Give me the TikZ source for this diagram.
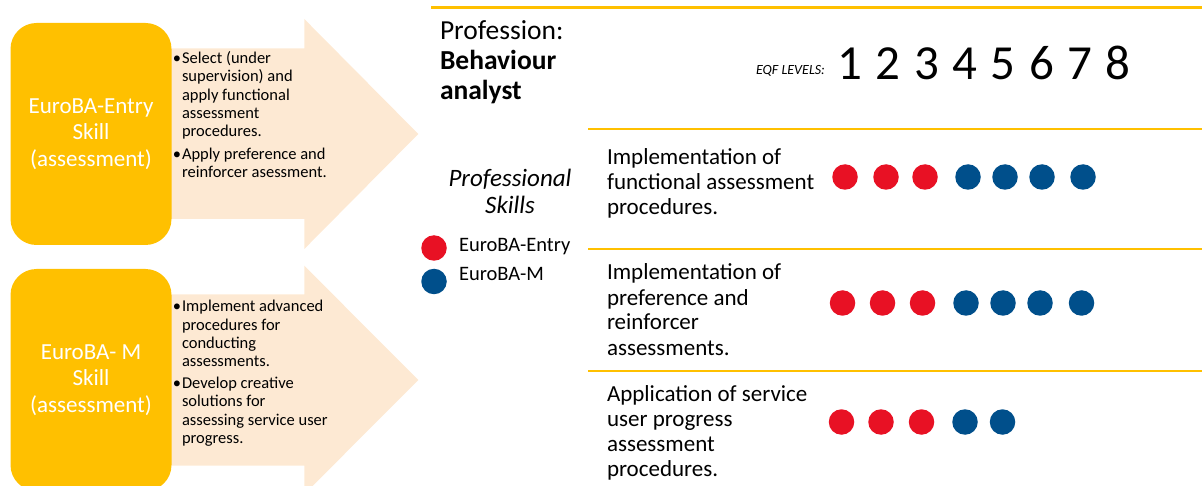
\documentclass[tikz,border=0pt]{standalone}
\usepackage{fontspec}
\setmainfont{Carlito}
\usetikzlibrary{positioning}
\definecolor{skillyellow}{RGB}{255,192,0}
\definecolor{arrowpeach}{RGB}{253,233,211}
\definecolor{dotred}{RGB}{232,17,36}
\definecolor{dotblue}{RGB}{0,79,139}

\begin{document}
\begin{tikzpicture}[x=1pt,y=-1pt]
        \tikzstyle{every node} = [inner sep=0, outer sep=0]
        \tikzstyle{skillbox} = [fill=skillyellow, rounded corners=26pt, minimum width=161pt, minimum height=222pt, text=white, align=center, font=\fontsize{23}{26.5}\selectfont]
        \tikzstyle{bul} = [anchor=base, font=\fontsize{16.5}{18.4}\selectfont]
        \tikzstyle{bultext} = [anchor=base west, align=left, font=\fontsize{16.5}{18.4}\selectfont]
        \tikzstyle{skilltext} = [anchor=base west, align=left, font=\fontsize{23}{25}\selectfont]
        \tikzstyle{level} = [anchor=base, font=\fontsize{49}{49}\selectfont]
        \tikzstyle{dot} = [circle, minimum size=25.5pt]
        \tikzstyle{rule} = [draw=skillyellow, line width=2.2pt]
        \useasboundingbox (0,0) rectangle (1202,486);

        % arrows behind the skill boxes
        \fill[arrowpeach] (168,48.3) -- (304.3,48.3) -- (304.3,19) -- (418.3,134) -- (304.3,249) -- (304.3,219) -- (168,219) -- cycle;
        \fill[arrowpeach] (168,294.3) -- (304.3,294.3) -- (304.3,265.7) -- (418.3,380) -- (304.3,494.3) -- (304.3,465.7) -- (168,465.7) -- cycle;

        \node[skillbox](entry) at (91,134){EuroBA-Entry\\Skill\\(assessment)};
        \node[skillbox](master) at (91,380){EuroBA- M\\Skill\\(assessment)};

        % multi-line nodes sit on the baseline of their last line
        \node[bul](eb1) at (177,63.3){•};
        \node[bultext](et1) at (182,136.9){Select (under\\supervision) and\\apply functional\\assessment\\procedures.};
        \node[bul](eb2) at (177,159.3){•};
        \node[bultext](et2) at (182,177.7){Apply preference and\\reinforcer asessment.};

        \node[bul](mb1) at (177,311.7){•};
        \node[bultext](mt1) at (182,366.9){Implement advanced\\procedures for\\conducting\\assessments.};
        \node[bul](mb2) at (177,388.3){•};
        \node[bultext](mt2) at (182,443.5){Develop creative\\solutions for\\assessing service user\\progress.};

        % right panel
        \draw[rule] (431,7.5) -- (1202,7.5);
        \draw[rule] (588,129) -- (1202,129);
        \draw[rule] (588,249) -- (1202,249);
        \draw[rule] (588,371) -- (1202,371);

        \node[anchor=base west, align=left, font=\fontsize{27.5}{30}\selectfont](prof) at (440,100){Profession:\\\textbf{Behaviour}\\\textbf{analyst}};
        \node[anchor=base east, font=\fontsize{14}{14}\selectfont\itshape](eqf) at (825,74.3){EQF LEVELS:};
        \foreach \n in {1,...,8}
            \node[level](lvl\n) at ({850+38.3*(\n-1)},79.3){\n};

        \node[anchor=base, align=center, font=\fontsize{25}{26.6}\selectfont\itshape](skills) at (510,213.3){Professional\\Skills};
        \node[dot, fill=dotred](entrydot) at (434,248){};
        \node[dot, fill=dotblue, below=8pt of entrydot](masterdot){};
        \node[anchor=base west, font=\fontsize{20.5}{22}\selectfont](entrylab) at (459,251.7){EuroBA-Entry};
        \node[anchor=base west, font=\fontsize{20.5}{22}\selectfont](masterlab) at (459,281){EuroBA-M};

        \node[skilltext](fa) at (607,215){Implementation of\\functional assessment\\procedures.};
        \node[skilltext](pr) at (607,355){Implementation of\\preference and\\reinforcer\\assessments.};
        \node[skilltext](sp) at (607,476.7){Application of service\\user progress\\assessment\\procedures.};

        \foreach \x/\c [count=\i] in {845/dotred,886/dotred,925/dotred,968/dotblue,1005/dotblue,1042/dotblue,1083/dotblue}
            \node[dot, fill=\c](fa\i) at (\x,177){};
        \foreach \x/\c [count=\i] in {842.5/dotred,882.5/dotred,922.5/dotred,966/dotblue,1003/dotblue,1040/dotblue,1081.5/dotblue}
            \node[dot, fill=\c](pr\i) at (\x,303){};
        \foreach \x/\c [count=\i] in {841.5/dotred,881/dotred,921.5/dotred,965/dotblue,1002.5/dotblue}
            \node[dot, fill=\c](sp\i) at (\x,422){};
    \end{tikzpicture}
\end{document}
